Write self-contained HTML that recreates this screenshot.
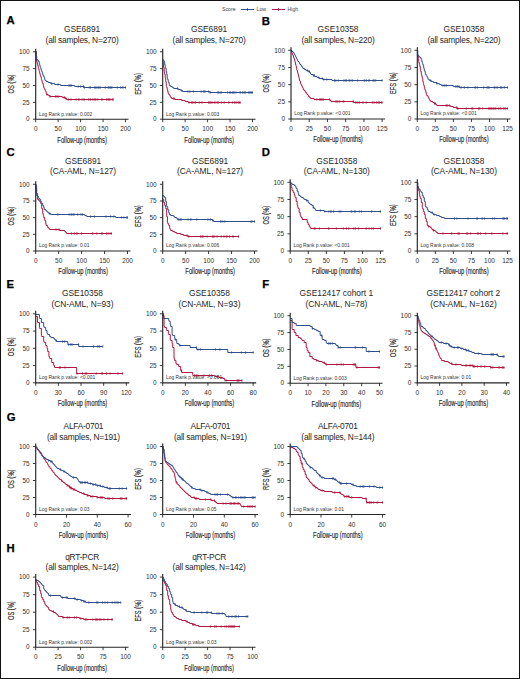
<!DOCTYPE html>
<html><head><meta charset="utf-8"><style>
html,body{margin:0;padding:0;background:#fff;}
body{width:520px;height:679px;overflow:hidden;position:relative;}
.frame{position:absolute;left:0;top:0;width:518px;height:677px;border:1px solid #111;pointer-events:none;}
svg text{font-family:"Liberation Sans",sans-serif;}
.tk{font-size:6.45px;fill:#2e2e2e;}
.pv{font-size:5.8px;fill:#333;}
.lab{font-size:8.7px;fill:#1e1e1e;stroke:#1e1e1e;stroke-width:0.15px;}
.tt{font-size:8.4px;fill:#262626;}
.tt2{letter-spacing:-0.2px;}
.let{font-size:11.3px;font-weight:bold;fill:#000;stroke:#000;stroke-width:0.25px;}
.leg{font-size:5.2px;fill:#444;}
</style></head>
<body>
<svg width="520" height="679" viewBox="0 0 520 679" style="display:block"><rect x="0" y="0" width="520" height="679" fill="#fff"/><path d="M35.7,51.5H36.2V56.5H36.64V61.5H37.2V63.5H37.7V65.5H38.2V67.5H38.53V68.5H38.7V69.5H39.2V71.5H39.7V73.5H40.2V75.5H40.7V76.5H41.2V78.5H41.36V79.5H41.7V80.5H42.2V82.5H42.7V83.5H43.2V85.5H43.7V87.5H44.2V88.5H44.7V89.5H45.2V90.5H45.7V91.5H46.2V93.5H46.7V94.5H48.2V95.5H49.89V96.5H62.2V97.5H65.2V98.5H66.7V99.5H113.2" fill="none" stroke="#b3173f" stroke-width="1.0" stroke-linejoin="miter"/><path d="M94.45,98.4V100.6 M112.66,98.4V100.6 M79.11,98.4V100.6 M82.12,98.4V100.6 M97.83,98.4V100.6 M109.08,98.4V100.6 M64.54,96.4V98.6 M65.91,97.4V99.6 M107.98,98.4V100.6 M95.88,98.4V100.6 M106.57,98.4V100.6 M109.22,98.4V100.6 M70.9,98.4V100.6 M83.73,98.4V100.6 M47.01,93.4V95.6 M110.07,98.4V100.6 M84.25,98.4V100.6 M58.17,95.4V97.6 M88.59,98.4V100.6 M50.03,95.4V97.6 M71,98.4V100.6 M101.6,98.4V100.6 M55.49,95.4V97.6 M56.86,95.4V97.6 M58.2,95.4V97.6 M88.97,98.4V100.6 M76.21,98.4V100.6 M95.45,98.4V100.6 M68.3,98.4V100.6 M94.53,98.4V100.6 M64.51,96.4V98.6 M112.4,98.4V100.6 M78.52,98.4V100.6 M90.55,98.4V100.6 M92.81,98.4V100.6 M64.15,96.4V98.6 M102.2,98.4V100.6 M95.4,98.4V100.6 M113.2,98.4V100.6" fill="none" stroke="#b3173f" stroke-width="1.1"/><path d="M35.7,51.5H36.15V56.5H36.64V59.5H37.7V60.5H38.53V61.5H39.2V63.5H39.7V65.5H40.2V67.5H40.7V68.5H41.2V70.5H41.7V71.5H42.2V72.5H42.7V74.5H43.2V75.5H43.7V76.5H44.2V77.5H44.7V79.5H45.13V80.5H46.2V81.5H48V82.5H50.7V83.5H54.7V84.5H60.7V85.5H74.7V86.5H83.7V87.5H125.5" fill="none" stroke="#2f4f8f" stroke-width="1.0" stroke-linejoin="miter"/><path d="M95.54,86.4V88.6 M110.09,86.4V88.6 M100.25,86.4V88.6 M71.3,84.4V86.6 M51.68,82.4V84.6 M68.85,84.4V86.6 M111.87,86.4V88.6 M78.21,85.4V87.6 M80.53,85.4V87.6 M94.51,86.4V88.6 M84.34,86.4V88.6 M89.15,86.4V88.6 M57.96,83.4V85.6 M80.7,85.4V87.6 M111.27,86.4V88.6 M122.95,86.4V88.6 M90.64,86.4V88.6 M51.62,82.4V84.6 M120.82,86.4V88.6 M83.49,85.4V87.6 M110.79,86.4V88.6 M105.21,86.4V88.6 M108.08,86.4V88.6 M98.98,86.4V88.6 M51.43,82.4V84.6 M105.37,86.4V88.6 M71.14,84.4V86.6 M84.47,86.4V88.6 M98.21,86.4V88.6 M110.79,86.4V88.6 M108.87,86.4V88.6 M110.28,86.4V88.6 M117.32,86.4V88.6 M120.61,86.4V88.6 M98.57,86.4V88.6 M122.67,86.4V88.6 M96.84,86.4V88.6 M70.23,84.4V86.6 M125.5,86.4V88.6" fill="none" stroke="#2f4f8f" stroke-width="1.1"/><path d="M35.7,48.8 V119.2 H128.5" fill="none" stroke="#262626" stroke-width="1.15"/><path d="M32.9,119.2 H35.7 M32.9,102.35 H35.7 M32.9,85.5 H35.7 M32.9,68.65 H35.7 M32.9,51.8 H35.7 M35.7,119.2 V122.2 M58.15,119.2 V122.2 M80.6,119.2 V122.2 M103.05,119.2 V122.2 M125.5,119.2 V122.2" fill="none" stroke="#262626" stroke-width="0.9"/><text x="29.7" y="121.4" class="tk" text-anchor="end">0</text><text x="29.7" y="104.55" class="tk" text-anchor="end">25</text><text x="29.7" y="87.7" class="tk" text-anchor="end">50</text><text x="29.7" y="70.85" class="tk" text-anchor="end">75</text><text x="29.7" y="54" class="tk" text-anchor="end">100</text><text x="35.7" y="131.2" class="tk" text-anchor="middle">0</text><text x="58.15" y="131.2" class="tk" text-anchor="middle">50</text><text x="80.6" y="131.2" class="tk" text-anchor="middle">100</text><text x="103.05" y="131.2" class="tk" text-anchor="middle">150</text><text x="125.5" y="131.2" class="tk" text-anchor="middle">200</text><text transform="translate(38.9,115.5) scale(0.85,1)" class="pv">Log Rank p.value: 0.002</text><text transform="translate(82.1,142.6) scale(0.666,1)" class="lab" text-anchor="middle">Follow-up (months)</text><text transform="translate(14.15,84) rotate(-90) scale(0.66,1)" class="lab" text-anchor="middle">OS (%)</text><text x="82.1" y="32.4" class="tt" text-anchor="middle" letter-spacing="0">GSE6891</text><text x="82.1" y="42.5" class="tt" text-anchor="middle" letter-spacing="-0.2">(all samples, N=270)</text><path d="M162.7,61.5H163.2V64.5H163.7V67.5H164.2V71.5H164.59V73.5H164.7V74.5H165.2V77.5H165.7V81.5H166.2V85.5H166.47V86.5H166.7V87.5H167.2V89.5H167.7V91.5H168.2V93.5H168.7V94.5H169.7V95.5H170.2V96.5H170.7V97.5H171.7V98.5H174.7V99.5H181.7V100.5H185.2V101.5H188.2V102.5H240.2" fill="none" stroke="#b3173f" stroke-width="1.0" stroke-linejoin="miter"/><path d="M208.57,101.4V103.6 M193.03,101.4V103.6 M228.86,101.4V103.6 M210.74,101.4V103.6 M235.02,101.4V103.6 M173.42,97.4V99.6 M238.67,101.4V103.6 M208.66,101.4V103.6 M217.66,101.4V103.6 M218.48,101.4V103.6 M173.96,97.4V99.6 M221.28,101.4V103.6 M239.64,101.4V103.6 M218.66,101.4V103.6 M236.76,101.4V103.6 M238.44,101.4V103.6 M191.46,101.4V103.6 M201.92,101.4V103.6 M232.37,101.4V103.6 M189,101.4V103.6 M228.66,101.4V103.6 M212.11,101.4V103.6 M239.51,101.4V103.6 M234.36,101.4V103.6 M235.1,101.4V103.6 M199.17,101.4V103.6 M195.49,101.4V103.6 M195.01,101.4V103.6 M209.75,101.4V103.6 M234.53,101.4V103.6 M215.91,101.4V103.6 M218.13,101.4V103.6 M214.32,101.4V103.6 M224.15,101.4V103.6 M192.94,101.4V103.6 M191.77,101.4V103.6 M238.89,101.4V103.6 M201.89,101.4V103.6 M240.2,101.4V103.6" fill="none" stroke="#b3173f" stroke-width="1.1"/><path d="M162.7,59.5H163.2V60.5H164.05V61.5H164.7V64.5H165.2V66.5H165.53V67.5H165.7V68.5H166.2V71.5H166.7V74.5H167.2V77.5H167.41V78.5H167.7V79.5H168.2V81.5H168.7V82.5H169.2V84.5H169.3V85.5H170.7V86.5H172.2V87.5H173.7V88.5H178.2V89.5H180.7V90.5H182.46V91.5H209.7V92.5H252.5" fill="none" stroke="#2f4f8f" stroke-width="1.0" stroke-linejoin="miter"/><path d="M218.49,91.4V93.6 M177.51,87.4V89.6 M230.79,91.4V93.6 M201.14,90.4V92.6 M245.68,91.4V93.6 M229.74,91.4V93.6 M248.33,91.4V93.6 M204.4,90.4V92.6 M233.61,91.4V93.6 M232.6,91.4V93.6 M210.22,91.4V93.6 M204.42,90.4V92.6 M188,90.4V92.6 M217.68,91.4V93.6 M208.66,90.4V92.6 M220.19,91.4V93.6 M248.84,91.4V93.6 M245.21,91.4V93.6 M221.48,91.4V93.6 M234.25,91.4V93.6 M227.64,91.4V93.6 M245.11,91.4V93.6 M203.65,90.4V92.6 M205.13,90.4V92.6 M240.3,91.4V93.6 M250.97,91.4V93.6 M233.58,91.4V93.6 M249.8,91.4V93.6 M240.02,91.4V93.6 M244.03,91.4V93.6 M251.58,91.4V93.6 M236,91.4V93.6 M242.56,91.4V93.6 M240.61,91.4V93.6 M189.9,90.4V92.6 M181.66,89.4V91.6 M193.37,90.4V92.6 M248.51,91.4V93.6 M252.5,91.4V93.6" fill="none" stroke="#2f4f8f" stroke-width="1.1"/><path d="M162.7,48.8 V119.2 H255.5" fill="none" stroke="#262626" stroke-width="1.15"/><path d="M159.9,119.2 H162.7 M159.9,102.35 H162.7 M159.9,85.5 H162.7 M159.9,68.65 H162.7 M159.9,51.8 H162.7 M162.7,119.2 V122.2 M185.15,119.2 V122.2 M207.6,119.2 V122.2 M230.05,119.2 V122.2 M252.5,119.2 V122.2" fill="none" stroke="#262626" stroke-width="0.9"/><text x="156.7" y="121.4" class="tk" text-anchor="end">0</text><text x="156.7" y="104.55" class="tk" text-anchor="end">25</text><text x="156.7" y="87.7" class="tk" text-anchor="end">50</text><text x="156.7" y="70.85" class="tk" text-anchor="end">75</text><text x="156.7" y="54" class="tk" text-anchor="end">100</text><text x="162.7" y="131.2" class="tk" text-anchor="middle">0</text><text x="185.15" y="131.2" class="tk" text-anchor="middle">50</text><text x="207.6" y="131.2" class="tk" text-anchor="middle">100</text><text x="230.05" y="131.2" class="tk" text-anchor="middle">150</text><text x="252.5" y="131.2" class="tk" text-anchor="middle">200</text><text transform="translate(165.9,115.5) scale(0.85,1)" class="pv">Log Rank p.value: 0.003</text><text transform="translate(209.1,142.6) scale(0.666,1)" class="lab" text-anchor="middle">Follow-up (months)</text><text transform="translate(141.2,84) rotate(-90) scale(0.66,1)" class="lab" text-anchor="middle">EFS (%)</text><text x="209.1" y="32.4" class="tt" text-anchor="middle" letter-spacing="0">GSE6891</text><text x="209.1" y="42.5" class="tt" text-anchor="middle" letter-spacing="-0.2">(all samples, N=270)</text><path d="M291,51.5H291.5V52.5H292V53.5H292.5V54.5H293V55.5H293.5V57.5H294V58.5H294.5V60.5H295V62.5H295.5V64.5H296V66.5H296.5V68.5H296.68V69.5H297V70.5H297.5V72.5H298V74.5H298.5V76.5H299V78.5H299.5V80.5H300V81.5H300.5V83.5H301V84.5H301.5V85.5H302V86.5H302.5V87.5H303V88.5H303.32V89.5H304V90.5H305V91.5H305.5V92.5H306.5V93.5H307V94.5H308V95.5H308.5V96.5H309.5V97.5H310.5V98.5H314V99.5H330V100.5H331V101.5H353.5V102.5H382.1" fill="none" stroke="#b3173f" stroke-width="1.0" stroke-linejoin="miter"/><path d="M376.44,101.4V103.6 M379.48,101.4V103.6 M366.18,101.4V103.6 M363.25,101.4V103.6 M323.32,98.4V100.6 M335.82,100.4V102.6 M336.25,100.4V102.6 M378.52,101.4V103.6 M362.83,101.4V103.6 M343.8,100.4V102.6 M373.97,101.4V103.6 M339.77,100.4V102.6 M376.86,101.4V103.6 M316.84,98.4V100.6 M357.22,101.4V103.6 M381.53,101.4V103.6 M329.51,98.4V100.6 M362.98,101.4V103.6 M320.38,98.4V100.6 M353.42,100.4V102.6 M355.52,101.4V103.6 M321.52,98.4V100.6 M357.42,101.4V103.6 M359.64,101.4V103.6 M372.34,101.4V103.6 M359.16,101.4V103.6 M319.45,98.4V100.6 M337.76,100.4V102.6 M353.16,100.4V102.6 M322.11,98.4V100.6 M343.17,100.4V102.6 M382.1,101.4V103.6" fill="none" stroke="#b3173f" stroke-width="1.1"/><path d="M291,50.5H292V51.5H293V52.5H293.84V53.5H294.5V54.5H295V55.5H295.5V56.5H296V57.5H296.5V58.5H297V59.5H297.5V60.5H298V61.5H299V62.5H299.5V63.5H300V64.5H301V65.5H301.5V66.5H302.5V67.5H303V68.5H304.5V69.5H306V70.5H308V71.5H309.5V72.5H310.5V73.5H310.9V74.5H313V75.5H314.76V76.5H317V77.5H319V78.5H323V79.5H332V80.5H382.1" fill="none" stroke="#2f4f8f" stroke-width="1.0" stroke-linejoin="miter"/><path d="M357.73,79.4V81.6 M307.64,69.4V71.6 M343.83,79.4V81.6 M375.67,79.4V81.6 M352,79.4V81.6 M348.95,79.4V81.6 M346.51,79.4V81.6 M364.06,79.4V81.6 M338.24,79.4V81.6 M368.78,79.4V81.6 M352.52,79.4V81.6 M345.31,79.4V81.6 M318.86,76.4V78.6 M314.44,74.4V76.6 M374.31,79.4V81.6 M375.59,79.4V81.6 M309.16,70.4V72.6 M326.79,78.4V80.6 M357.44,79.4V81.6 M369.44,79.4V81.6 M335.77,79.4V81.6 M366.57,79.4V81.6 M334.48,79.4V81.6 M364.91,79.4V81.6 M373.1,79.4V81.6 M313.57,74.4V76.6 M352.61,79.4V81.6 M322.22,77.4V79.6 M350,79.4V81.6 M323.8,78.4V80.6 M309.28,70.4V72.6 M382.1,79.4V81.6" fill="none" stroke="#2f4f8f" stroke-width="1.1"/><path d="M291,47.3 V119 H385.1" fill="none" stroke="#262626" stroke-width="1.15"/><path d="M288.2,119 H291 M288.2,101.83 H291 M288.2,84.65 H291 M288.2,67.47 H291 M288.2,50.3 H291 M291,119 V122 M309.22,119 V122 M327.44,119 V122 M345.66,119 V122 M363.88,119 V122 M382.1,119 V122" fill="none" stroke="#262626" stroke-width="0.9"/><text x="285" y="121.2" class="tk" text-anchor="end">0</text><text x="285" y="104.03" class="tk" text-anchor="end">25</text><text x="285" y="86.85" class="tk" text-anchor="end">50</text><text x="285" y="69.67" class="tk" text-anchor="end">75</text><text x="285" y="52.5" class="tk" text-anchor="end">100</text><text x="291" y="131" class="tk" text-anchor="middle">0</text><text x="309.22" y="131" class="tk" text-anchor="middle">25</text><text x="327.44" y="131" class="tk" text-anchor="middle">50</text><text x="345.66" y="131" class="tk" text-anchor="middle">75</text><text x="363.88" y="131" class="tk" text-anchor="middle">100</text><text x="382.1" y="131" class="tk" text-anchor="middle">125</text><text transform="translate(294.2,115.3) scale(0.85,1)" class="pv">Log Rank p.value: <0.001</text><text transform="translate(338.05,142.4) scale(0.666,1)" class="lab" text-anchor="middle">Follow-up (months)</text><text transform="translate(268.6,83.15) rotate(-90) scale(0.66,1)" class="lab" text-anchor="middle">OS (%)</text><text x="338.05" y="32.4" class="tt" text-anchor="middle" letter-spacing="0">GSE10358</text><text x="338.05" y="42.5" class="tt" text-anchor="middle" letter-spacing="-0.2">(all samples, N=220)</text><path d="M417.3,54.5H417.8V56.5H418.3V59.5H418.74V61.5H418.8V62.5H419.3V64.5H419.8V66.5H420.3V69.5H420.69V71.5H421.3V74.5H421.8V76.5H422.3V78.5H422.8V81.5H423.3V83.5H423.51V84.5H423.8V85.5H424.3V87.5H424.8V89.5H425.3V90.5H425.8V92.5H426.3V94.5H426.8V95.5H427.8V96.5H428.3V97.5H428.8V98.5H429.3V99.5H429.8V100.5H430.8V101.5H432.8V102.5H434.3V103.5H435.8V104.5H436.8V105.5H450.3V106.5H453.3V107.5H456.8V108.5H507.5" fill="none" stroke="#b3173f" stroke-width="1.0" stroke-linejoin="miter"/><path d="M478.51,107.4V109.6 M472.9,107.4V109.6 M495.89,107.4V109.6 M434.52,102.4V104.6 M471.79,107.4V109.6 M504.02,107.4V109.6 M446.08,104.4V106.6 M457.92,107.4V109.6 M466.27,107.4V109.6 M489.33,107.4V109.6 M490.23,107.4V109.6 M479.83,107.4V109.6 M479.09,107.4V109.6 M498.51,107.4V109.6 M488.27,107.4V109.6 M456.77,106.4V108.6 M495.3,107.4V109.6 M503.54,107.4V109.6 M447.27,104.4V106.6 M505.73,107.4V109.6 M449.34,104.4V106.6 M500.93,107.4V109.6 M505.39,107.4V109.6 M457.33,107.4V109.6 M493.22,107.4V109.6 M482.78,107.4V109.6 M500.37,107.4V109.6 M494.04,107.4V109.6 M435.5,102.4V104.6 M490.87,107.4V109.6 M491.85,107.4V109.6 M507.5,107.4V109.6" fill="none" stroke="#b3173f" stroke-width="1.1"/><path d="M417.3,50.5H417.8V54.5H417.88V55.5H418.8V56.5H419.8V57.5H420.8V58.5H421.3V59.5H421.8V61.5H422.3V62.5H422.57V63.5H422.8V64.5H423.3V66.5H423.8V68.5H424.3V70.5H424.8V71.5H425.3V73.5H425.38V74.5H426.3V75.5H426.8V76.5H427.3V77.5H427.8V78.5H428.2V79.5H429.3V80.5H431.3V81.5H433.3V82.5H436.8V83.5H439.3V84.5H441.3V85.5H453.3V86.5H459.3V87.5H507.5" fill="none" stroke="#2f4f8f" stroke-width="1.0" stroke-linejoin="miter"/><path d="M504.31,86.4V88.6 M477.21,86.4V88.6 M444.79,84.4V86.6 M501.42,86.4V88.6 M501.06,86.4V88.6 M467.94,86.4V88.6 M456.86,85.4V87.6 M489.13,86.4V88.6 M494.2,86.4V88.6 M436.92,82.4V84.6 M459.18,85.4V87.6 M456.86,85.4V87.6 M483.67,86.4V88.6 M474.99,86.4V88.6 M488.27,86.4V88.6 M495.02,86.4V88.6 M442.97,84.4V86.6 M497.02,86.4V88.6 M464.29,86.4V88.6 M497.46,86.4V88.6 M501.81,86.4V88.6 M487.07,86.4V88.6 M446.31,84.4V86.6 M500.55,86.4V88.6 M475.53,86.4V88.6 M457.73,85.4V87.6 M464.51,86.4V88.6 M461.05,86.4V88.6 M496.95,86.4V88.6 M455.27,85.4V87.6 M430.55,79.4V81.6 M507.5,86.4V88.6" fill="none" stroke="#2f4f8f" stroke-width="1.1"/><path d="M417.3,47.3 V119 H510.5" fill="none" stroke="#262626" stroke-width="1.15"/><path d="M414.5,119 H417.3 M414.5,101.83 H417.3 M414.5,84.65 H417.3 M414.5,67.47 H417.3 M414.5,50.3 H417.3 M417.3,119 V122 M435.34,119 V122 M453.38,119 V122 M471.42,119 V122 M489.46,119 V122 M507.5,119 V122" fill="none" stroke="#262626" stroke-width="0.9"/><text x="411.3" y="121.2" class="tk" text-anchor="end">0</text><text x="411.3" y="104.03" class="tk" text-anchor="end">25</text><text x="411.3" y="86.85" class="tk" text-anchor="end">50</text><text x="411.3" y="69.67" class="tk" text-anchor="end">75</text><text x="411.3" y="52.5" class="tk" text-anchor="end">100</text><text x="417.3" y="131" class="tk" text-anchor="middle">0</text><text x="435.34" y="131" class="tk" text-anchor="middle">25</text><text x="453.38" y="131" class="tk" text-anchor="middle">50</text><text x="471.42" y="131" class="tk" text-anchor="middle">75</text><text x="489.46" y="131" class="tk" text-anchor="middle">100</text><text x="507.5" y="131" class="tk" text-anchor="middle">125</text><text transform="translate(420.5,115.3) scale(0.85,1)" class="pv">Log Rank p.value: <0.001</text><text transform="translate(463.9,142.4) scale(0.666,1)" class="lab" text-anchor="middle">Follow-up (months)</text><text transform="translate(395.7,83.15) rotate(-90) scale(0.66,1)" class="lab" text-anchor="middle">EFS (%)</text><text x="463.9" y="32.4" class="tt" text-anchor="middle" letter-spacing="0">GSE10358</text><text x="463.9" y="42.5" class="tt" text-anchor="middle" letter-spacing="-0.2">(all samples, N=220)</text><path d="M35.7,186.5H36.7V193.5H37.58V199.5H38.7V200.5H39.7V201.5H40.43V202.5H40.7V203.5H41.7V208.5H42.7V213.5H43.27V215.5H43.7V217.5H44.7V220.5H45.7V223.5H46.12V225.5H47.7V227.5H48.7V228.5H49.7V229.5H59.7V230.5H64.7V231.5H65.7V232.5H66.54V233.5H111.44" fill="none" stroke="#b3173f" stroke-width="1.0" stroke-linejoin="miter"/><path d="M92.79,232.4V234.6 M71.44,232.4V234.6 M77.17,232.4V234.6 M96.8,232.4V234.6 M106.96,232.4V234.6 M101.61,232.4V234.6 M111.18,232.4V234.6 M102.23,232.4V234.6 M81.45,232.4V234.6 M92.58,232.4V234.6 M110.96,232.4V234.6 M55.97,228.4V230.6 M58.91,228.4V230.6 M106.61,232.4V234.6 M76.48,232.4V234.6 M108.92,232.4V234.6 M74.39,232.4V234.6 M92.71,232.4V234.6 M111.44,232.4V234.6" fill="none" stroke="#b3173f" stroke-width="1.1"/><path d="M35.7,184.5H36.25V195.5H37.7V196.5H38.55V197.5H38.7V198.5H39.7V199.5H40.7V201.5H41.39V202.5H41.7V203.5H42.7V205.5H43.7V207.5H44.24V209.5H45.7V210.5H46.7V211.5H47.7V212.5H48.7V213.5H50.7V214.5H84.7V215.5H86.65V216.5H115.7V217.5H127.5" fill="none" stroke="#2f4f8f" stroke-width="1.0" stroke-linejoin="miter"/><path d="M71.9,213.4V215.6 M82.48,213.4V215.6 M113.9,215.4V217.6 M49.73,212.4V214.6 M77.67,213.4V215.6 M126.49,216.4V218.6 M74.1,213.4V215.6 M110.67,215.4V217.6 M121.58,216.4V218.6 M94.32,215.4V217.6 M123.86,216.4V218.6 M69.17,213.4V215.6 M90.6,215.4V217.6 M57.81,213.4V215.6 M106.05,215.4V217.6 M73.45,213.4V215.6 M81.04,213.4V215.6 M71.1,213.4V215.6 M127.5,216.4V218.6" fill="none" stroke="#2f4f8f" stroke-width="1.1"/><path d="M35.7,181.3 V251 H130.5" fill="none" stroke="#262626" stroke-width="1.15"/><path d="M32.9,251 H35.7 M32.9,234.32 H35.7 M32.9,217.65 H35.7 M32.9,200.98 H35.7 M32.9,184.3 H35.7 M35.7,251 V254 M58.65,251 V254 M81.6,251 V254 M104.55,251 V254 M127.5,251 V254" fill="none" stroke="#262626" stroke-width="0.9"/><text x="29.7" y="253.2" class="tk" text-anchor="end">0</text><text x="29.7" y="236.52" class="tk" text-anchor="end">25</text><text x="29.7" y="219.85" class="tk" text-anchor="end">50</text><text x="29.7" y="203.18" class="tk" text-anchor="end">75</text><text x="29.7" y="186.5" class="tk" text-anchor="end">100</text><text x="35.7" y="263" class="tk" text-anchor="middle">0</text><text x="58.65" y="263" class="tk" text-anchor="middle">50</text><text x="81.6" y="263" class="tk" text-anchor="middle">100</text><text x="104.55" y="263" class="tk" text-anchor="middle">150</text><text x="127.5" y="263" class="tk" text-anchor="middle">200</text><text transform="translate(38.9,247.3) scale(0.85,1)" class="pv">Log Rank p.value: 0.01</text><text transform="translate(83.1,274.4) scale(0.666,1)" class="lab" text-anchor="middle">Follow-up (months)</text><text transform="translate(14.15,216.15) rotate(-90) scale(0.66,1)" class="lab" text-anchor="middle">OS (%)</text><text x="83.1" y="164.2" class="tt" text-anchor="middle" letter-spacing="0">GSE6891</text><text x="83.1" y="174.2" class="tt" text-anchor="middle" letter-spacing="-0.05">(CA-AML, N=127)</text><path d="M162.7,199.5H163.7V202.5H164.7V205.5H165.55V207.5H165.7V208.5H166.7V216.5H167.43V222.5H167.7V223.5H168.7V225.5H169.7V228.5H170.27V229.5H170.7V230.5H172.7V231.5H174.7V232.5H176.7V233.5H180.6V234.5H183.7V235.5H187.7V236.5H238.44" fill="none" stroke="#b3173f" stroke-width="1.0" stroke-linejoin="miter"/><path d="M226.22,235.4V237.6 M186.96,234.4V236.6 M226.92,235.4V237.6 M200.66,235.4V237.6 M232.84,235.4V237.6 M202.16,235.4V237.6 M213.67,235.4V237.6 M214.11,235.4V237.6 M212.3,235.4V237.6 M221.22,235.4V237.6 M213,235.4V237.6 M223.96,235.4V237.6 M207.15,235.4V237.6 M233.49,235.4V237.6 M229.49,235.4V237.6 M203.02,235.4V237.6 M188.86,235.4V237.6 M217.16,235.4V237.6 M238.44,235.4V237.6" fill="none" stroke="#b3173f" stroke-width="1.1"/><path d="M162.7,195.5H163.7V196.5H164.7V197.5H165.7V201.5H166.46V205.5H166.7V206.5H167.7V209.5H168.7V212.5H169.31V214.5H170.7V215.5H173.7V216.5H174.7V217.5H176.7V218.5H177.7V219.5H212.7V220.5H213.65V221.5H254.5" fill="none" stroke="#2f4f8f" stroke-width="1.0" stroke-linejoin="miter"/><path d="M220.54,220.4V222.6 M178.13,218.4V220.6 M179.09,218.4V220.6 M221.03,220.4V222.6 M210.29,218.4V220.6 M250.91,220.4V222.6 M191.07,218.4V220.6 M210.63,218.4V220.6 M181.24,218.4V220.6 M212.89,219.4V221.6 M187.99,218.4V220.6 M180.62,218.4V220.6 M190.54,218.4V220.6 M196.66,218.4V220.6 M251.93,220.4V222.6 M224.74,220.4V222.6 M207.91,218.4V220.6 M222.88,220.4V222.6 M254.5,220.4V222.6" fill="none" stroke="#2f4f8f" stroke-width="1.1"/><path d="M162.7,181.3 V251 H257.5" fill="none" stroke="#262626" stroke-width="1.15"/><path d="M159.9,251 H162.7 M159.9,234.32 H162.7 M159.9,217.65 H162.7 M159.9,200.98 H162.7 M159.9,184.3 H162.7 M162.7,251 V254 M185.65,251 V254 M208.6,251 V254 M231.55,251 V254 M254.5,251 V254" fill="none" stroke="#262626" stroke-width="0.9"/><text x="156.7" y="253.2" class="tk" text-anchor="end">0</text><text x="156.7" y="236.52" class="tk" text-anchor="end">25</text><text x="156.7" y="219.85" class="tk" text-anchor="end">50</text><text x="156.7" y="203.18" class="tk" text-anchor="end">75</text><text x="156.7" y="186.5" class="tk" text-anchor="end">100</text><text x="162.7" y="263" class="tk" text-anchor="middle">0</text><text x="185.65" y="263" class="tk" text-anchor="middle">50</text><text x="208.6" y="263" class="tk" text-anchor="middle">100</text><text x="231.55" y="263" class="tk" text-anchor="middle">150</text><text x="254.5" y="263" class="tk" text-anchor="middle">200</text><text transform="translate(165.9,247.3) scale(0.85,1)" class="pv">Log Rank p.value: 0.006</text><text transform="translate(210.1,274.4) scale(0.666,1)" class="lab" text-anchor="middle">Follow-up (months)</text><text transform="translate(141.2,216.15) rotate(-90) scale(0.66,1)" class="lab" text-anchor="middle">EFS (%)</text><text x="210.1" y="164.2" class="tt" text-anchor="middle" letter-spacing="0">GSE6891</text><text x="210.1" y="174.2" class="tt" text-anchor="middle" letter-spacing="-0.05">(CA-AML, N=127)</text><path d="M290.2,184.5H291.2V187.5H292.08V190.5H293.2V192.5H294.2V194.5H294.9V196.5H295.2V197.5H296.2V201.5H297.2V205.5H297.79V207.5H298.2V208.5H299.2V212.5H300.2V215.5H300.6V216.5H301.2V217.5H302.2V219.5H307.2V222.5H308.12V224.5H309.2V226.5H310.2V227.5H310.57V228.5H380.5" fill="none" stroke="#b3173f" stroke-width="1.0" stroke-linejoin="miter"/><path d="M353.98,227.4V229.6 M358.64,227.4V229.6 M355.5,227.4V229.6 M315.07,227.4V229.6 M346.55,227.4V229.6 M366.24,227.4V229.6 M373.54,227.4V229.6 M315.2,227.4V229.6 M369.12,227.4V229.6 M343.23,227.4V229.6 M348.73,227.4V229.6 M314.16,227.4V229.6 M371.75,227.4V229.6 M328.56,227.4V229.6 M319.44,227.4V229.6 M336.35,227.4V229.6 M328.9,227.4V229.6 M348.69,227.4V229.6 M380.5,227.4V229.6" fill="none" stroke="#b3173f" stroke-width="1.1"/><path d="M290.2,182.5H291.2V183.5H292.2V184.5H294.2V185.5H295.2V186.5H295.83V187.5H296.2V188.5H297.2V191.5H298.2V193.5H298.72V195.5H300.2V196.5H301.2V197.5H303.2V198.5H304.2V199.5H306.2V200.5H308.2V202.5H309.13V203.5H310.2V204.5H311.87V205.5H313.2V207.5H314.2V208.5H315.2V209.5H315.7V210.5H324.15V211.5H380.5" fill="none" stroke="#2f4f8f" stroke-width="1.0" stroke-linejoin="miter"/><path d="M331.2,210.4V212.6 M359.16,210.4V212.6 M330.67,210.4V212.6 M313.33,206.4V208.6 M328.9,210.4V212.6 M380.19,210.4V212.6 M339.07,210.4V212.6 M340.82,210.4V212.6 M351.86,210.4V212.6 M355.7,210.4V212.6 M351.2,210.4V212.6 M354.39,210.4V212.6 M324.89,210.4V212.6 M320.33,209.4V211.6 M333.51,210.4V212.6 M371.52,210.4V212.6 M306.83,199.4V201.6 M361.42,210.4V212.6 M380.5,210.4V212.6" fill="none" stroke="#2f4f8f" stroke-width="1.1"/><path d="M290.2,179.3 V251 H383.5" fill="none" stroke="#262626" stroke-width="1.15"/><path d="M287.4,251 H290.2 M287.4,233.82 H290.2 M287.4,216.65 H290.2 M287.4,199.48 H290.2 M287.4,182.3 H290.2 M290.2,251 V254 M308.26,251 V254 M326.32,251 V254 M344.38,251 V254 M362.44,251 V254 M380.5,251 V254" fill="none" stroke="#262626" stroke-width="0.9"/><text x="284.2" y="253.2" class="tk" text-anchor="end">0</text><text x="284.2" y="236.02" class="tk" text-anchor="end">25</text><text x="284.2" y="218.85" class="tk" text-anchor="end">50</text><text x="284.2" y="201.68" class="tk" text-anchor="end">75</text><text x="284.2" y="184.5" class="tk" text-anchor="end">100</text><text x="290.2" y="263" class="tk" text-anchor="middle">0</text><text x="308.26" y="263" class="tk" text-anchor="middle">25</text><text x="326.32" y="263" class="tk" text-anchor="middle">50</text><text x="344.38" y="263" class="tk" text-anchor="middle">75</text><text x="362.44" y="263" class="tk" text-anchor="middle">100</text><text x="380.5" y="263" class="tk" text-anchor="middle">125</text><text transform="translate(293.4,247.3) scale(0.85,1)" class="pv">Log Rank p.value: <0.001</text><text transform="translate(336.85,274.4) scale(0.666,1)" class="lab" text-anchor="middle">Follow-up (months)</text><text transform="translate(268.6,215.15) rotate(-90) scale(0.66,1)" class="lab" text-anchor="middle">OS (%)</text><text x="336.85" y="164.2" class="tt" text-anchor="middle" letter-spacing="0">GSE10358</text><text x="336.85" y="174.2" class="tt" text-anchor="middle" letter-spacing="-0.05">(CA-AML, N=130)</text><path d="M417.3,186.5H418.3V190.5H419.3V194.5H419.75V196.5H420.3V198.5H421.3V202.5H422.3V207.5H422.57V208.5H423.3V211.5H424.3V214.5H425.3V218.5H426.3V221.5H427.26V225.5H428.3V226.5H430.3V227.5H431.3V228.5H432.02V229.5H433.3V230.5H435.3V231.5H436.3V232.5H437.65V233.5H507.5" fill="none" stroke="#b3173f" stroke-width="1.0" stroke-linejoin="miter"/><path d="M433.37,229.4V231.6 M428.75,225.4V227.6 M480.46,232.4V234.6 M485.7,232.4V234.6 M458.65,232.4V234.6 M442.98,232.4V234.6 M467.56,232.4V234.6 M502.84,232.4V234.6 M451.63,232.4V234.6 M458.06,232.4V234.6 M470.53,232.4V234.6 M478.33,232.4V234.6 M491.81,232.4V234.6 M477.41,232.4V234.6 M466.74,232.4V234.6 M459.25,232.4V234.6 M506.93,232.4V234.6 M451.68,232.4V234.6 M507.5,232.4V234.6" fill="none" stroke="#b3173f" stroke-width="1.1"/><path d="M417.3,182.5H417.88V187.5H418.3V188.5H419.3V189.5H420.3V190.5H420.69V191.5H421.3V192.5H422.3V195.5H423.3V197.5H424.3V201.5H425.3V206.5H426.3V207.5H427.3V209.5H428.2V211.5H430.3V212.5H432.3V213.5H433.3V214.5H436.3V215.5H439.3V216.5H441.3V217.5H444.3V218.5H507.5" fill="none" stroke="#2f4f8f" stroke-width="1.0" stroke-linejoin="miter"/><path d="M482.54,217.4V219.6 M506.75,217.4V219.6 M506.32,217.4V219.6 M503.49,217.4V219.6 M492.69,217.4V219.6 M506.94,217.4V219.6 M484.6,217.4V219.6 M468.09,217.4V219.6 M502.82,217.4V219.6 M434.17,213.4V215.6 M454.63,217.4V219.6 M482.08,217.4V219.6 M477.52,217.4V219.6 M456.82,217.4V219.6 M494.79,217.4V219.6 M476.77,217.4V219.6 M504.32,217.4V219.6 M432.1,211.4V213.6 M507.5,217.4V219.6" fill="none" stroke="#2f4f8f" stroke-width="1.1"/><path d="M417.3,179.3 V251 H510.5" fill="none" stroke="#262626" stroke-width="1.15"/><path d="M414.5,251 H417.3 M414.5,233.82 H417.3 M414.5,216.65 H417.3 M414.5,199.48 H417.3 M414.5,182.3 H417.3 M417.3,251 V254 M435.34,251 V254 M453.38,251 V254 M471.42,251 V254 M489.46,251 V254 M507.5,251 V254" fill="none" stroke="#262626" stroke-width="0.9"/><text x="411.3" y="253.2" class="tk" text-anchor="end">0</text><text x="411.3" y="236.02" class="tk" text-anchor="end">25</text><text x="411.3" y="218.85" class="tk" text-anchor="end">50</text><text x="411.3" y="201.68" class="tk" text-anchor="end">75</text><text x="411.3" y="184.5" class="tk" text-anchor="end">100</text><text x="417.3" y="263" class="tk" text-anchor="middle">0</text><text x="435.34" y="263" class="tk" text-anchor="middle">25</text><text x="453.38" y="263" class="tk" text-anchor="middle">50</text><text x="471.42" y="263" class="tk" text-anchor="middle">75</text><text x="489.46" y="263" class="tk" text-anchor="middle">100</text><text x="507.5" y="263" class="tk" text-anchor="middle">125</text><text transform="translate(420.5,247.3) scale(0.85,1)" class="pv">Log Rank p.value: 0.008</text><text transform="translate(463.9,274.4) scale(0.666,1)" class="lab" text-anchor="middle">Follow-up (months)</text><text transform="translate(395.7,215.15) rotate(-90) scale(0.66,1)" class="lab" text-anchor="middle">EFS (%)</text><text x="463.9" y="164.2" class="tt" text-anchor="middle" letter-spacing="0">GSE10358</text><text x="463.9" y="174.2" class="tt" text-anchor="middle" letter-spacing="-0.05">(CA-AML, N=130)</text><path d="M35.7,316.5H37.59V322.5H39.48V327.5H39.7V328.5H41.36V335.5H41.7V336.5H43.7V341.5H44.19V342.5H45.7V345.5H47.03V348.5H47.7V351.5H48.91V356.5H49.7V358.5H51.7V362.5H53.7V365.5H54.58V367.5H76.66V373.5H122.53" fill="none" stroke="#b3173f" stroke-width="1.0" stroke-linejoin="miter"/><path d="M59.35,366.4V368.6 M101.79,372.4V374.6 M96.32,372.4V374.6 M60.38,366.4V368.6 M86.61,372.4V374.6 M82.48,372.4V374.6 M85.33,372.4V374.6 M64.98,366.4V368.6 M77.09,372.4V374.6 M110.07,372.4V374.6 M117.92,372.4V374.6 M102.39,372.4V374.6 M106.62,372.4V374.6 M122.53,372.4V374.6" fill="none" stroke="#b3173f" stroke-width="1.1"/><path d="M35.7,314.5H39.48V317.5H39.7V318.5H41.36V322.5H43.7V326.5H44.19V327.5H45.7V330.5H47.03V333.5H47.7V334.5H49.7V336.5H50.8V337.5H53.7V338.5H54.58V339.5H55.7V340.5H56.46V341.5H67.7V343.5H67.79V344.5H78.74V346.5H102.71" fill="none" stroke="#2f4f8f" stroke-width="1.0" stroke-linejoin="miter"/><path d="M62.65,340.4V342.6 M68.7,343.4V345.6 M93.53,345.4V347.6 M99.18,345.4V347.6 M82.96,345.4V347.6 M78.46,343.4V345.6 M64.68,340.4V342.6 M97.69,345.4V347.6 M72.06,343.4V345.6 M70.58,343.4V345.6 M71.94,343.4V345.6 M56.06,339.4V341.6 M99.49,345.4V347.6 M102.71,345.4V347.6" fill="none" stroke="#2f4f8f" stroke-width="1.1"/><path d="M35.7,310.8 V382.8 H129.3" fill="none" stroke="#262626" stroke-width="1.15"/><path d="M32.9,382.8 H35.7 M32.9,365.55 H35.7 M32.9,348.3 H35.7 M32.9,331.05 H35.7 M32.9,313.8 H35.7 M35.7,382.8 V385.8 M58.35,382.8 V385.8 M81,382.8 V385.8 M103.65,382.8 V385.8 M126.3,382.8 V385.8" fill="none" stroke="#262626" stroke-width="0.9"/><text x="29.7" y="385" class="tk" text-anchor="end">0</text><text x="29.7" y="367.75" class="tk" text-anchor="end">25</text><text x="29.7" y="350.5" class="tk" text-anchor="end">50</text><text x="29.7" y="333.25" class="tk" text-anchor="end">75</text><text x="29.7" y="316" class="tk" text-anchor="end">100</text><text x="35.7" y="394.8" class="tk" text-anchor="middle">0</text><text x="58.35" y="394.8" class="tk" text-anchor="middle">30</text><text x="81" y="394.8" class="tk" text-anchor="middle">60</text><text x="103.65" y="394.8" class="tk" text-anchor="middle">90</text><text x="126.3" y="394.8" class="tk" text-anchor="middle">120</text><text transform="translate(38.9,379.1) scale(0.85,1)" class="pv">Log Rank p.value: <0.001</text><text transform="translate(82.5,406.2) scale(0.666,1)" class="lab" text-anchor="middle">Follow-up (months)</text><text transform="translate(14.15,346.8) rotate(-90) scale(0.66,1)" class="lab" text-anchor="middle">OS (%)</text><text x="82.5" y="296.4" class="tt" text-anchor="middle" letter-spacing="0">GSE10358</text><text x="82.5" y="306.5" class="tt" text-anchor="middle" letter-spacing="-0.05">(CN-AML, N=93)</text><path d="M162.7,315.5H164.06V326.5H164.7V327.5H166.43V329.5H166.7V330.5H168.36V333.5H168.7V334.5H170.28V339.5H170.7V340.5H172.09V343.5H172.7V347.5H174.01V358.5H174.7V360.5H175.94V363.5H176.7V364.5H178.7V366.5H180.7V370.5H181.59V372.5H192.7V374.5H192.9V375.5H214.7V376.5H218.7V377.5H222.7V378.5H224.7V380.5H241.89" fill="none" stroke="#b3173f" stroke-width="1.0" stroke-linejoin="miter"/><path d="M181.55,369.4V371.6 M196.2,374.4V376.6 M226.07,379.4V381.6 M237.16,379.4V381.6 M203.82,374.4V376.6 M209.33,374.4V376.6 M238.2,379.4V381.6 M211.67,374.4V376.6 M194.58,374.4V376.6 M197.83,374.4V376.6 M239.02,379.4V381.6 M211.92,374.4V376.6 M217.58,375.4V377.6 M241.89,379.4V381.6" fill="none" stroke="#b3173f" stroke-width="1.1"/><path d="M162.7,313.5H163.6V318.5H168.7V320.5H169.26V321.5H170.28V324.5H170.7V326.5H172.09V334.5H172.7V335.5H174.7V338.5H174.92V339.5H176.7V342.5H176.84V343.5H178.7V344.5H179.67V345.5H190.08V347.5H196.64V349.5H227.75V352.5H253.2" fill="none" stroke="#2f4f8f" stroke-width="1.0" stroke-linejoin="miter"/><path d="M219.72,348.4V350.6 M245.64,351.4V353.6 M175.48,338.4V340.6 M241.39,351.4V353.6 M179.92,344.4V346.6 M200.33,348.4V350.6 M198.01,348.4V350.6 M200.4,348.4V350.6 M219.84,348.4V350.6 M196.45,346.4V348.6 M215.52,348.4V350.6 M219.94,348.4V350.6 M231.63,351.4V353.6 M253.2,351.4V353.6" fill="none" stroke="#2f4f8f" stroke-width="1.1"/><path d="M162.7,310.8 V382.8 H256.2" fill="none" stroke="#262626" stroke-width="1.15"/><path d="M159.9,382.8 H162.7 M159.9,365.55 H162.7 M159.9,348.3 H162.7 M159.9,331.05 H162.7 M159.9,313.8 H162.7 M162.7,382.8 V385.8 M185.32,382.8 V385.8 M207.95,382.8 V385.8 M230.57,382.8 V385.8 M253.2,382.8 V385.8" fill="none" stroke="#262626" stroke-width="0.9"/><text x="156.7" y="385" class="tk" text-anchor="end">0</text><text x="156.7" y="367.75" class="tk" text-anchor="end">25</text><text x="156.7" y="350.5" class="tk" text-anchor="end">50</text><text x="156.7" y="333.25" class="tk" text-anchor="end">75</text><text x="156.7" y="316" class="tk" text-anchor="end">100</text><text x="162.7" y="394.8" class="tk" text-anchor="middle">0</text><text x="185.32" y="394.8" class="tk" text-anchor="middle">20</text><text x="207.95" y="394.8" class="tk" text-anchor="middle">40</text><text x="230.57" y="394.8" class="tk" text-anchor="middle">60</text><text x="253.2" y="394.8" class="tk" text-anchor="middle">80</text><text transform="translate(165.9,379.1) scale(0.85,1)" class="pv">Log Rank p.value: <0.001</text><text transform="translate(209.45,406.2) scale(0.666,1)" class="lab" text-anchor="middle">Follow-up (months)</text><text transform="translate(141.2,346.8) rotate(-90) scale(0.66,1)" class="lab" text-anchor="middle">EFS (%)</text><text x="209.45" y="296.4" class="tt" text-anchor="middle" letter-spacing="0">GSE10358</text><text x="209.45" y="306.5" class="tt" text-anchor="middle" letter-spacing="-0.05">(CN-AML, N=93)</text><path d="M290.2,320.5H292.08V328.5H292.2V329.5H294.2V332.5H295.92V335.5H298.2V337.5H300.2V338.5H301.45V339.5H302.2V340.5H304.2V342.5H306.2V347.5H307.17V350.5H308.2V352.5H309.85V356.5H312.2V358.5H313.78V359.5H316.2V360.5H318.42V361.5H322.2V362.5H324.2V363.5H325.92V364.5H355.92V367.5H379.5" fill="none" stroke="#b3173f" stroke-width="1.0" stroke-linejoin="miter"/><path d="M378.33,366.4V368.6 M353.26,363.4V365.6 M326.32,363.4V365.6 M341.09,363.4V365.6 M357.04,366.4V368.6 M324.13,361.4V363.6 M343.33,363.4V365.6 M336.94,363.4V365.6 M354.45,363.4V365.6 M355.43,363.4V365.6 M316.81,359.4V361.6 M379.5,366.4V368.6" fill="none" stroke="#b3173f" stroke-width="1.1"/><path d="M290.2,318.5H292.08V322.5H294.2V323.5H296.2V325.5H310.2V326.5H312.2V328.5H314.2V329.5H316.2V330.5H318.2V331.5H320.2V335.5H322.17V339.5H324.2V340.5H326.2V342.5H326.81V343.5H335.39V344.5H336.2V345.5H338.06V347.5H366.2V351.5H379.5" fill="none" stroke="#2f4f8f" stroke-width="1.0" stroke-linejoin="miter"/><path d="M340.22,346.4V348.6 M330.26,342.4V344.6 M332.32,342.4V344.6 M368.93,350.4V352.6 M321.55,334.4V336.6 M312.44,327.4V329.6 M355.15,346.4V348.6 M362.59,346.4V348.6 M328.73,342.4V344.6 M338.33,346.4V348.6 M355.67,346.4V348.6 M379.5,350.4V352.6" fill="none" stroke="#2f4f8f" stroke-width="1.1"/><path d="M290.2,312.7 V383.2 H382.5" fill="none" stroke="#262626" stroke-width="1.15"/><path d="M287.4,383.2 H290.2 M287.4,366.32 H290.2 M287.4,349.45 H290.2 M287.4,332.57 H290.2 M287.4,315.7 H290.2 M290.2,383.2 V386.2 M308.06,383.2 V386.2 M325.92,383.2 V386.2 M343.78,383.2 V386.2 M361.64,383.2 V386.2 M379.5,383.2 V386.2" fill="none" stroke="#262626" stroke-width="0.9"/><text x="284.2" y="385.4" class="tk" text-anchor="end">0</text><text x="284.2" y="368.52" class="tk" text-anchor="end">25</text><text x="284.2" y="351.65" class="tk" text-anchor="end">50</text><text x="284.2" y="334.77" class="tk" text-anchor="end">75</text><text x="284.2" y="317.9" class="tk" text-anchor="end">100</text><text x="290.2" y="395.2" class="tk" text-anchor="middle">0</text><text x="308.06" y="395.2" class="tk" text-anchor="middle">10</text><text x="325.92" y="395.2" class="tk" text-anchor="middle">20</text><text x="343.78" y="395.2" class="tk" text-anchor="middle">30</text><text x="361.64" y="395.2" class="tk" text-anchor="middle">40</text><text x="379.5" y="395.2" class="tk" text-anchor="middle">50</text><text transform="translate(293.4,379.5) scale(0.85,1)" class="pv">Log Rank p.value: 0.003</text><text transform="translate(336.35,406.6) scale(0.666,1)" class="lab" text-anchor="middle">Follow-up (months)</text><text transform="translate(268.6,347.95) rotate(-90) scale(0.66,1)" class="lab" text-anchor="middle">OS (%)</text><text x="336.35" y="296.4" class="tt" text-anchor="middle" letter-spacing="0">GSE12417 cohort 1</text><text x="336.35" y="306.5" class="tt" text-anchor="middle" letter-spacing="-0.05">(CN-AML, N=78)</text><path d="M417.3,316.5H417.8V318.5H418.3V320.5H418.8V322.5H419.17V324.5H419.8V326.5H420.3V328.5H420.8V329.5H421.09V330.5H421.8V331.5H422.8V332.5H424.3V333.5H425.8V334.5H427.3V335.5H428.8V336.5H430.3V337.5H430.8V338.5H431.8V339.5H432.3V340.5H433.13V341.5H433.8V342.5H434.3V344.5H434.8V345.5H435.3V346.5H435.8V348.5H436.3V349.5H436.8V350.5H437.3V351.5H437.8V352.5H438.3V353.5H438.8V355.5H439.3V356.5H439.8V357.5H440.3V358.5H441.3V359.5H441.61V360.5H444.3V361.5H448.3V362.5H449.8V363.5H451.8V364.5H461.3V365.5H473.3V366.5H490.8V367.5H504.05" fill="none" stroke="#b3173f" stroke-width="1.0" stroke-linejoin="miter"/><path d="M465.84,364.4V366.6 M484.73,365.4V367.6 M490.84,366.4V368.6 M470.32,364.4V366.6 M455.96,363.4V365.6 M477.3,365.4V367.6 M466.73,364.4V366.6 M434.98,344.4V346.6 M474.74,365.4V367.6 M498.99,366.4V368.6 M490.89,366.4V368.6 M492.79,366.4V368.6 M484.53,365.4V367.6 M474.35,365.4V367.6 M451.79,362.4V364.6 M499.29,366.4V368.6 M435.95,347.4V349.6 M481.01,365.4V367.6 M503.13,366.4V368.6 M502.04,366.4V368.6 M472.2,364.4V366.6 M469.81,364.4V366.6 M473.32,365.4V367.6 M504.05,366.4V368.6" fill="none" stroke="#b3173f" stroke-width="1.1"/><path d="M417.3,315.5H417.8V316.5H418.3V318.5H418.8V319.5H419.17V320.5H419.8V322.5H420.3V323.5H420.8V325.5H421.09V326.5H422.8V327.5H423.8V328.5H425.3V329.5H425.8V330.5H426.8V331.5H427.8V332.5H428.3V333.5H429.3V334.5H430.3V335.5H431.3V336.5H432.8V337.5H433.8V338.5H434.8V339.5H436.3V340.5H437.8V341.5H438.8V342.5H443.3V343.5H448.3V344.5H449.3V345.5H450.3V346.5H452.3V347.5H460.3V348.5H463.3V349.5H466.3V350.5H469.3V351.5H471.8V352.5H474.3V353.5H481.8V354.5H497.3V355.5H498.3V356.5H504.05" fill="none" stroke="#2f4f8f" stroke-width="1.0" stroke-linejoin="miter"/><path d="M492.38,353.4V355.6 M503.06,355.4V357.6 M466.73,349.4V351.6 M478.29,352.4V354.6 M431.76,335.4V337.6 M491.59,353.4V355.6 M497.01,353.4V355.6 M493.51,353.4V355.6 M451.28,345.4V347.6 M492.79,353.4V355.6 M457.49,346.4V348.6 M468.55,349.4V351.6 M446.1,342.4V344.6 M441.28,341.4V343.6 M458.62,346.4V348.6 M432.13,335.4V337.6 M491.02,353.4V355.6 M449.58,344.4V346.6 M448.93,343.4V345.6 M465.4,348.4V350.6 M503.29,355.4V357.6 M461.76,347.4V349.6 M454.2,346.4V348.6 M504.05,355.4V357.6" fill="none" stroke="#2f4f8f" stroke-width="1.1"/><path d="M417.3,312.7 V382.8 H509.5" fill="none" stroke="#262626" stroke-width="1.15"/><path d="M414.5,382.8 H417.3 M414.5,366.02 H417.3 M414.5,349.25 H417.3 M414.5,332.48 H417.3 M414.5,315.7 H417.3 M417.3,382.8 V385.8 M439.6,382.8 V385.8 M461.9,382.8 V385.8 M484.2,382.8 V385.8 M506.5,382.8 V385.8" fill="none" stroke="#262626" stroke-width="0.9"/><text x="411.3" y="385" class="tk" text-anchor="end">0</text><text x="411.3" y="368.22" class="tk" text-anchor="end">25</text><text x="411.3" y="351.45" class="tk" text-anchor="end">50</text><text x="411.3" y="334.68" class="tk" text-anchor="end">75</text><text x="411.3" y="317.9" class="tk" text-anchor="end">100</text><text x="417.3" y="394.8" class="tk" text-anchor="middle">0</text><text x="439.6" y="394.8" class="tk" text-anchor="middle">10</text><text x="461.9" y="394.8" class="tk" text-anchor="middle">20</text><text x="484.2" y="394.8" class="tk" text-anchor="middle">30</text><text x="506.5" y="394.8" class="tk" text-anchor="middle">40</text><text transform="translate(420.5,379.1) scale(0.85,1)" class="pv">Log Rank p.value: 0.01</text><text transform="translate(463.4,406.2) scale(0.666,1)" class="lab" text-anchor="middle">Follow-up (months)</text><text transform="translate(395.7,347.75) rotate(-90) scale(0.66,1)" class="lab" text-anchor="middle">OS (%)</text><text x="463.4" y="296.4" class="tt" text-anchor="middle" letter-spacing="0">GSE12417 cohort 2</text><text x="463.4" y="306.5" class="tt" text-anchor="middle" letter-spacing="-0.05">(CN-AML, N=162)</text><path d="M35.7,447.5H36.7V448.5H37.2V449.5H38.2V450.5H39.2V451.5H40.2V452.5H41.2V453.5H41.7V454.5H42.2V455.5H42.7V456.5H43.2V457.5H43.7V458.5H44.7V459.5H45.2V460.5H45.7V461.5H46.2V462.5H47.2V463.5H47.7V464.5H48.2V465.5H48.7V466.5H49.7V467.5H50.2V468.5H51.2V469.5H51.7V470.5H52.7V471.5H53.2V472.5H54.2V473.5H54.7V474.5H55.41V475.5H56.7V476.5H57.7V477.5H58.7V478.5H59.7V479.5H61.2V480.5H62.2V481.5H63.2V482.5H64.7V483.5H65.7V484.5H67.2V485.5H68.7V486.5H69.7V487.5H71.2V488.5H73.2V489.5H75.2V490.5H77.2V491.5H79.2V492.5H81.7V493.5H84.2V494.5H87.2V495.5H90.2V496.5H97.2V497.5H104.7V498.5H126.56" fill="none" stroke="#b3173f" stroke-width="1.0" stroke-linejoin="miter"/><path d="M102.53,496.4V498.6 M107.87,497.4V499.6 M73.27,488.4V490.6 M90.91,495.4V497.6 M74.61,488.4V490.6 M120.74,497.4V499.6 M125.16,497.4V499.6 M69.96,486.4V488.6 M121.5,497.4V499.6 M102.49,496.4V498.6 M87.31,494.4V496.6 M83.73,492.4V494.6 M100.68,496.4V498.6 M61.54,479.4V481.6 M67.3,484.4V486.6 M112.74,497.4V499.6 M101.46,496.4V498.6 M71.27,487.4V489.6 M71.05,486.4V488.6 M92.79,495.4V497.6 M100.14,496.4V498.6 M122,497.4V499.6 M69.44,485.4V487.6 M97.2,496.4V498.6 M87.98,494.4V496.6 M120.36,497.4V499.6 M109.2,497.4V499.6 M126.56,497.4V499.6" fill="none" stroke="#b3173f" stroke-width="1.1"/><path d="M35.7,446.5H36.2V447.5H37.2V448.5H37.7V449.5H38.47V450.5H39.2V451.5H39.7V452.5H40.2V453.5H41.2V454.5H41.4V455.5H42.7V456.5H43.7V457.5H45.2V458.5H46.2V459.5H48.2V460.5H50.2V461.5H52.2V462.5H52.7V463.5H53.7V464.5H54.7V465.5H55.2V466.5H56.2V467.5H57.2V468.5H59.2V469.5H61.2V470.5H63.2V471.5H65.2V472.5H66.7V473.5H68.2V474.5H69.2V475.5H70.7V476.5H72.2V477.5H76.7V478.5H77.7V479.5H78.2V480.5H78.7V481.5H79.7V482.5H88.2V483.5H92.2V484.5H96.2V485.5H100.2V486.5H104.2V487.5H107.7V488.5H126.56" fill="none" stroke="#2f4f8f" stroke-width="1.0" stroke-linejoin="miter"/><path d="M82.64,481.4V483.6 M90.34,482.4V484.6 M107.05,486.4V488.6 M84.57,481.4V483.6 M95.61,483.4V485.6 M110.38,487.4V489.6 M87.41,481.4V483.6 M51.76,460.4V462.6 M100.11,484.4V486.6 M93.17,483.4V485.6 M50.8,460.4V462.6 M102.73,485.4V487.6 M73.61,476.4V478.6 M109.47,487.4V489.6 M97.59,484.4V486.6 M80.43,481.4V483.6 M85.58,481.4V483.6 M93.62,483.4V485.6 M64.18,470.4V472.6 M50.96,460.4V462.6 M122.09,487.4V489.6 M60.46,468.4V470.6 M119.21,487.4V489.6 M82.34,481.4V483.6 M48.64,459.4V461.6 M81.46,481.4V483.6 M109.86,487.4V489.6 M126.56,487.4V489.6" fill="none" stroke="#2f4f8f" stroke-width="1.1"/><path d="M35.7,443.5 V514.5 H131.1" fill="none" stroke="#262626" stroke-width="1.15"/><path d="M32.9,514.5 H35.7 M32.9,497.5 H35.7 M32.9,480.5 H35.7 M32.9,463.5 H35.7 M32.9,446.5 H35.7 M35.7,514.5 V517.5 M66.5,514.5 V517.5 M97.3,514.5 V517.5 M128.1,514.5 V517.5" fill="none" stroke="#262626" stroke-width="0.9"/><text x="29.7" y="516.7" class="tk" text-anchor="end">0</text><text x="29.7" y="499.7" class="tk" text-anchor="end">25</text><text x="29.7" y="482.7" class="tk" text-anchor="end">50</text><text x="29.7" y="465.7" class="tk" text-anchor="end">75</text><text x="29.7" y="448.7" class="tk" text-anchor="end">100</text><text x="35.7" y="526.5" class="tk" text-anchor="middle">0</text><text x="66.5" y="526.5" class="tk" text-anchor="middle">20</text><text x="97.3" y="526.5" class="tk" text-anchor="middle">40</text><text x="128.1" y="526.5" class="tk" text-anchor="middle">60</text><text transform="translate(38.9,510.8) scale(0.85,1)" class="pv">Log Rank p.value: 0.03</text><text transform="translate(83.4,537.9) scale(0.666,1)" class="lab" text-anchor="middle">Follow-up (months)</text><text transform="translate(14.15,479) rotate(-90) scale(0.66,1)" class="lab" text-anchor="middle">OS (%)</text><text x="83.4" y="429.4" class="tt" text-anchor="middle" letter-spacing="-0.25">ALFA-0701</text><text x="83.4" y="439.5" class="tt" text-anchor="middle" letter-spacing="-0.2">(all samples, N=191)</text><path d="M162.7,446.5H163.2V449.5H163.7V452.5H164.2V455.5H164.7V458.5H165.16V461.5H165.7V462.5H166.7V463.5H167.2V464.5H168.2V465.5H169.2V466.5H170.2V467.5H170.7V468.5H171.7V469.5H172.2V470.5H172.7V471.5H173.7V472.5H174.1V473.5H174.7V476.5H175.2V478.5H175.7V480.5H175.94V481.5H176.2V482.5H177.2V483.5H177.7V484.5H178.7V485.5H179.7V486.5H180.2V487.5H181.2V488.5H182.2V489.5H183.2V490.5H184.2V491.5H185.2V492.5H186.2V493.5H187.7V494.5H188.7V495.5H190.2V496.5H191.19V497.5H194.7V498.5H199.2V499.5H211.2V500.5H214.7V501.5H215.7V502.5H216.91V503.5H240.2V504.5H240.7V505.5H241.2V506.5H255.1" fill="none" stroke="#b3173f" stroke-width="1.0" stroke-linejoin="miter"/><path d="M247.7,505.4V507.6 M250.82,505.4V507.6 M214.39,499.4V501.6 M225.87,502.4V504.6 M237.27,502.4V504.6 M205.51,498.4V500.6 M233.74,502.4V504.6 M195.71,497.4V499.6 M230.95,502.4V504.6 M231.76,502.4V504.6 M235.07,502.4V504.6 M234.25,502.4V504.6 M243.81,505.4V507.6 M255.05,505.4V507.6 M238.56,502.4V504.6 M194.1,496.4V498.6 M249.31,505.4V507.6 M176.39,481.4V483.6 M231.06,502.4V504.6 M210.8,498.4V500.6 M238.76,502.4V504.6 M252.31,505.4V507.6 M233.58,502.4V504.6 M225.87,502.4V504.6 M223.09,502.4V504.6 M196.82,497.4V499.6 M230.07,502.4V504.6 M255.1,505.4V507.6" fill="none" stroke="#b3173f" stroke-width="1.1"/><path d="M162.7,446.5H163.2V448.5H163.62V449.5H164.2V453.5H164.7V457.5H165.16V460.5H165.7V461.5H166.7V462.5H168.2V463.5H169.7V464.5H171.2V465.5H172.7V466.5H173.2V467.5H173.7V468.5H174.2V469.5H175.02V470.5H175.7V471.5H176.2V472.5H177.2V473.5H177.7V474.5H178.2V475.5H178.87V476.5H180.2V477.5H181.2V478.5H182.2V479.5H183.2V480.5H184.7V481.5H185.7V482.5H186.7V483.5H188.2V484.5H189.2V485.5H190.2V486.5H191.7V487.5H192.7V488.5H195.2V489.5H200.7V490.5H204.7V491.5H206.7V492.5H208.7V493.5H210.7V494.5H229.2V495.5H230.7V496.5H232V497.5H255.1" fill="none" stroke="#2f4f8f" stroke-width="1.0" stroke-linejoin="miter"/><path d="M238.66,496.4V498.6 M235.51,496.4V498.6 M216.86,493.4V495.6 M220.28,493.4V495.6 M227.54,493.4V495.6 M217.63,493.4V495.6 M240.62,496.4V498.6 M179.79,475.4V477.6 M253.56,496.4V498.6 M182.67,478.4V480.6 M181.43,477.4V479.6 M241.93,496.4V498.6 M252.19,496.4V498.6 M236.24,496.4V498.6 M243.99,496.4V498.6 M233.08,496.4V498.6 M253.24,496.4V498.6 M215.14,493.4V495.6 M241.96,496.4V498.6 M238.67,496.4V498.6 M191.73,486.4V488.6 M245.05,496.4V498.6 M199.99,488.4V490.6 M253.03,496.4V498.6 M207.11,491.4V493.6 M201.78,489.4V491.6 M183.03,478.4V480.6 M255.1,496.4V498.6" fill="none" stroke="#2f4f8f" stroke-width="1.1"/><path d="M162.7,443.5 V514.5 H258.1" fill="none" stroke="#262626" stroke-width="1.15"/><path d="M159.9,514.5 H162.7 M159.9,497.5 H162.7 M159.9,480.5 H162.7 M159.9,463.5 H162.7 M159.9,446.5 H162.7 M162.7,514.5 V517.5 M193.5,514.5 V517.5 M224.3,514.5 V517.5 M255.1,514.5 V517.5" fill="none" stroke="#262626" stroke-width="0.9"/><text x="156.7" y="516.7" class="tk" text-anchor="end">0</text><text x="156.7" y="499.7" class="tk" text-anchor="end">25</text><text x="156.7" y="482.7" class="tk" text-anchor="end">50</text><text x="156.7" y="465.7" class="tk" text-anchor="end">75</text><text x="156.7" y="448.7" class="tk" text-anchor="end">100</text><text x="162.7" y="526.5" class="tk" text-anchor="middle">0</text><text x="193.5" y="526.5" class="tk" text-anchor="middle">20</text><text x="224.3" y="526.5" class="tk" text-anchor="middle">40</text><text x="255.1" y="526.5" class="tk" text-anchor="middle">60</text><text transform="translate(165.9,510.8) scale(0.85,1)" class="pv">Log Rank p.value: 0.05</text><text transform="translate(210.4,537.9) scale(0.666,1)" class="lab" text-anchor="middle">Follow-up (months)</text><text transform="translate(141.2,479) rotate(-90) scale(0.66,1)" class="lab" text-anchor="middle">EFS (%)</text><text x="210.4" y="429.4" class="tt" text-anchor="middle" letter-spacing="-0.25">ALFA-0701</text><text x="210.4" y="439.5" class="tt" text-anchor="middle" letter-spacing="-0.2">(all samples, N=191)</text><path d="M290.2,446.5H291.2V447.5H293.2V448.5H294.97V449.5H296.2V451.5H297.2V452.5H298.2V454.5H298.66V455.5H299.2V456.5H300.2V460.5H301.2V463.5H302.2V466.5H302.51V467.5H303.2V469.5H304.2V471.5H305.2V474.5H306.2V477.5H307.2V478.5H308.2V479.5H309.2V481.5H310.2V482.5H311.2V483.5H312.2V484.5H312.81V485.5H314.2V486.5H315.2V487.5H317.2V488.5H318.2V489.5H320.2V490.5H324.2V491.5H332.2V492.5H340.2V493.5H341.2V494.5H343.2V495.5H343.89V496.5H349.2V497.5H362.2V498.5H366.2V500.5H366.5V502.5H382.5" fill="none" stroke="#b3173f" stroke-width="1.0" stroke-linejoin="miter"/><path d="M302.07,462.4V464.6 M369.06,501.4V503.6 M369.9,501.4V503.6 M377.18,501.4V503.6 M339.82,491.4V493.6 M377.55,501.4V503.6 M315.9,486.4V488.6 M322.08,489.4V491.6 M351.65,496.4V498.6 M346.66,495.4V497.6 M313.92,484.4V486.6 M348.87,495.4V497.6 M348.66,495.4V497.6 M366.04,497.4V499.6 M371.24,501.4V503.6 M366.98,501.4V503.6 M373.73,501.4V503.6 M348.23,495.4V497.6 M334.73,491.4V493.6 M344.74,495.4V497.6 M382.5,501.4V503.6" fill="none" stroke="#b3173f" stroke-width="1.1"/><path d="M290.2,446.5H297.2V447.5H298.2V448.5H299.2V449.5H300.2V450.5H301.2V453.5H302.2V456.5H302.51V457.5H303.2V458.5H304.2V459.5H305.2V461.5H306.2V463.5H307.12V464.5H308.2V465.5H309.2V466.5H310.2V467.5H312.2V468.5H313.2V469.5H314.2V470.5H316.2V472.5H317.2V473.5H318.2V474.5H319.2V475.5H320.2V476.5H321.2V477.5H324.2V478.5H334.2V479.5H336.2V480.5H337.2V481.5H338.2V482.5H340.2V483.5H351.2V484.5H353.2V485.5H356.2V486.5H376.2V487.5H382.5" fill="none" stroke="#2f4f8f" stroke-width="1.0" stroke-linejoin="miter"/><path d="M332.58,477.4V479.6 M335.47,478.4V480.6 M333.25,477.4V479.6 M346.54,482.4V484.6 M322.14,476.4V478.6 M319.96,474.4V476.6 M363.77,485.4V487.6 M319.68,474.4V476.6 M335.25,478.4V480.6 M362.87,485.4V487.6 M341.66,482.4V484.6 M339.56,481.4V483.6 M340.63,482.4V484.6 M353.04,483.4V485.6 M310.33,466.4V468.6 M304,457.4V459.6 M369.58,485.4V487.6 M360.18,485.4V487.6 M379.88,486.4V488.6 M374.01,485.4V487.6 M382.5,486.4V488.6" fill="none" stroke="#2f4f8f" stroke-width="1.1"/><path d="M290.2,443.5 V514.5 H385.5" fill="none" stroke="#262626" stroke-width="1.15"/><path d="M287.4,514.5 H290.2 M287.4,497.5 H290.2 M287.4,480.5 H290.2 M287.4,463.5 H290.2 M287.4,446.5 H290.2 M290.2,514.5 V517.5 M320.97,514.5 V517.5 M351.73,514.5 V517.5 M382.5,514.5 V517.5" fill="none" stroke="#262626" stroke-width="0.9"/><text x="284.2" y="516.7" class="tk" text-anchor="end">0</text><text x="284.2" y="499.7" class="tk" text-anchor="end">25</text><text x="284.2" y="482.7" class="tk" text-anchor="end">50</text><text x="284.2" y="465.7" class="tk" text-anchor="end">75</text><text x="284.2" y="448.7" class="tk" text-anchor="end">100</text><text x="290.2" y="526.5" class="tk" text-anchor="middle">0</text><text x="320.97" y="526.5" class="tk" text-anchor="middle">20</text><text x="351.73" y="526.5" class="tk" text-anchor="middle">40</text><text x="382.5" y="526.5" class="tk" text-anchor="middle">60</text><text transform="translate(293.4,510.8) scale(0.85,1)" class="pv">Log Rank p.value: 0.01</text><text transform="translate(337.85,537.9) scale(0.666,1)" class="lab" text-anchor="middle">Follow-up (months)</text><text transform="translate(268.6,479) rotate(-90) scale(0.66,1)" class="lab" text-anchor="middle">RFS (%)</text><text x="337.85" y="429.4" class="tt" text-anchor="middle" letter-spacing="-0.25">ALFA-0701</text><text x="337.85" y="439.5" class="tt" text-anchor="middle" letter-spacing="-0.2">(all samples, N=144)</text><path d="M35.7,580.5H36.7V582.5H37.7V584.5H38.57V586.5H39.7V590.5H40.7V593.5H41.36V596.5H41.7V597.5H42.7V599.5H43.7V601.5H44.7V603.5H45.13V604.5H45.7V605.5H46.7V606.5H47.7V607.5H48.7V609.5H49.7V610.5H51.7V611.5H53.7V612.5H55.55V613.5H56.7V614.5H57.7V615.5H58.42V616.5H62.7V617.5H79.7V618.5H83.7V619.5H112.3" fill="none" stroke="#b3173f" stroke-width="1.0" stroke-linejoin="miter"/><path d="M96.5,618.4V620.6 M63.18,616.4V618.6 M103.98,618.4V620.6 M95.65,618.4V620.6 M85.22,618.4V620.6 M53.44,610.4V612.6 M111.84,618.4V620.6 M67.21,616.4V618.6 M100.82,618.4V620.6 M107.86,618.4V620.6 M86.84,618.4V620.6 M69.16,616.4V618.6 M53.46,610.4V612.6 M111.92,618.4V620.6 M92.75,618.4V620.6 M97.78,618.4V620.6 M99.61,618.4V620.6 M80.83,617.4V619.6 M74.4,616.4V618.6 M76.39,616.4V618.6 M112.3,618.4V620.6" fill="none" stroke="#b3173f" stroke-width="1.1"/><path d="M35.7,579.5H36.7V580.5H38.57V581.5H39.7V582.5H40.7V583.5H41.7V584.5H42.35V585.5H43.7V588.5H44.23V589.5H44.7V590.5H45.7V591.5H46.7V592.5H47.7V593.5H48.7V595.5H60.7V596.5H61.2V597.5H67.7V598.5H75.7V599.5H80.7V600.5H83.7V601.5H85.7V602.5H120.74" fill="none" stroke="#2f4f8f" stroke-width="1.0" stroke-linejoin="miter"/><path d="M66.2,596.4V598.6 M84.08,600.4V602.6 M96.6,601.4V603.6 M118.2,601.4V603.6 M104.98,601.4V603.6 M50.6,594.4V596.6 M77.15,598.4V600.6 M102.72,601.4V603.6 M114.96,601.4V603.6 M67.04,596.4V598.6 M107.6,601.4V603.6 M97.88,601.4V603.6 M74.43,597.4V599.6 M88.85,601.4V603.6 M62.36,596.4V598.6 M81.73,599.4V601.6 M85.05,600.4V602.6 M74.77,597.4V599.6 M116.96,601.4V603.6 M112.2,601.4V603.6 M120.74,601.4V603.6" fill="none" stroke="#2f4f8f" stroke-width="1.1"/><path d="M35.7,574.1 V647.2 H128.5" fill="none" stroke="#262626" stroke-width="1.15"/><path d="M32.9,647.2 H35.7 M32.9,629.68 H35.7 M32.9,612.15 H35.7 M32.9,594.62 H35.7 M32.9,577.1 H35.7 M35.7,647.2 V650.2 M58.15,647.2 V650.2 M80.6,647.2 V650.2 M103.05,647.2 V650.2 M125.5,647.2 V650.2" fill="none" stroke="#262626" stroke-width="0.9"/><text x="29.7" y="649.4" class="tk" text-anchor="end">0</text><text x="29.7" y="631.88" class="tk" text-anchor="end">25</text><text x="29.7" y="614.35" class="tk" text-anchor="end">50</text><text x="29.7" y="596.83" class="tk" text-anchor="end">75</text><text x="29.7" y="579.3" class="tk" text-anchor="end">100</text><text x="35.7" y="659.2" class="tk" text-anchor="middle">0</text><text x="58.15" y="659.2" class="tk" text-anchor="middle">25</text><text x="80.6" y="659.2" class="tk" text-anchor="middle">50</text><text x="103.05" y="659.2" class="tk" text-anchor="middle">75</text><text x="125.5" y="659.2" class="tk" text-anchor="middle">100</text><text transform="translate(38.9,643.5) scale(0.85,1)" class="pv">Log Rank p.value: 0.002</text><text transform="translate(82.1,670.6) scale(0.666,1)" class="lab" text-anchor="middle">Follow-up (months)</text><text transform="translate(14.15,610.65) rotate(-90) scale(0.66,1)" class="lab" text-anchor="middle">OS (%)</text><text x="82.1" y="559.7" class="tt" text-anchor="middle" letter-spacing="-0.25">qRT-PCR</text><text x="82.1" y="569.7" class="tt" text-anchor="middle" letter-spacing="-0.2">(all samples, N=142)</text><path d="M162.7,579.5H163.7V581.5H164.7V583.5H165.57V585.5H166.7V590.5H167.7V595.5H168.36V598.5H168.7V599.5H169.7V604.5H170.7V609.5H171.23V611.5H171.7V612.5H172.7V614.5H173.7V615.5H174.01V616.5H175.7V617.5H176.7V618.5H178.7V619.5H181.7V620.5H185.7V621.5H187.7V622.5H189.7V623.5H192.7V624.5H195.7V625.5H198.7V626.5H239.3" fill="none" stroke="#b3173f" stroke-width="1.0" stroke-linejoin="miter"/><path d="M214.81,625.4V627.6 M230.65,625.4V627.6 M229.26,625.4V627.6 M232.8,625.4V627.6 M192.7,623.4V625.6 M228.59,625.4V627.6 M216.28,625.4V627.6 M210.38,625.4V627.6 M221.11,625.4V627.6 M230.81,625.4V627.6 M226.68,625.4V627.6 M210.6,625.4V627.6 M232.63,625.4V627.6 M194.02,623.4V625.6 M234.57,625.4V627.6 M233.55,625.4V627.6 M231.75,625.4V627.6 M193.87,623.4V625.6 M186.91,620.4V622.6 M224.98,625.4V627.6 M239.3,625.4V627.6" fill="none" stroke="#b3173f" stroke-width="1.1"/><path d="M162.7,577.5H163.7V579.5H164.59V581.5H165.7V583.5H166.7V584.5H167.46V586.5H168.7V588.5H169.7V591.5H170.24V592.5H170.7V594.5H171.7V597.5H172.7V601.5H173.12V603.5H174.7V604.5H175.7V605.5H177.7V606.5H179.7V607.5H182.7V608.5H183.7V609.5H185.7V610.5H186.7V611.5H190.7V612.5H211.7V613.5H224.7V614.5H225.7V615.5H226.01V616.5H247.74" fill="none" stroke="#2f4f8f" stroke-width="1.0" stroke-linejoin="miter"/><path d="M235.21,615.4V617.6 M217.03,612.4V614.6 M179.39,605.4V607.6 M222.2,612.4V614.6 M186.15,609.4V611.6 M238.41,615.4V617.6 M219.07,612.4V614.6 M235.36,615.4V617.6 M175.27,603.4V605.6 M232.05,615.4V617.6 M235.05,615.4V617.6 M207.48,611.4V613.6 M228.83,615.4V617.6 M201.87,611.4V613.6 M236.04,615.4V617.6 M246.25,615.4V617.6 M194.14,611.4V613.6 M206.47,611.4V613.6 M211.29,611.4V613.6 M182.03,606.4V608.6 M247.74,615.4V617.6" fill="none" stroke="#2f4f8f" stroke-width="1.1"/><path d="M162.7,574.1 V647.2 H255.5" fill="none" stroke="#262626" stroke-width="1.15"/><path d="M159.9,647.2 H162.7 M159.9,629.68 H162.7 M159.9,612.15 H162.7 M159.9,594.62 H162.7 M159.9,577.1 H162.7 M162.7,647.2 V650.2 M185.15,647.2 V650.2 M207.6,647.2 V650.2 M230.05,647.2 V650.2 M252.5,647.2 V650.2" fill="none" stroke="#262626" stroke-width="0.9"/><text x="156.7" y="649.4" class="tk" text-anchor="end">0</text><text x="156.7" y="631.88" class="tk" text-anchor="end">25</text><text x="156.7" y="614.35" class="tk" text-anchor="end">50</text><text x="156.7" y="596.83" class="tk" text-anchor="end">75</text><text x="156.7" y="579.3" class="tk" text-anchor="end">100</text><text x="162.7" y="659.2" class="tk" text-anchor="middle">0</text><text x="185.15" y="659.2" class="tk" text-anchor="middle">25</text><text x="207.6" y="659.2" class="tk" text-anchor="middle">50</text><text x="230.05" y="659.2" class="tk" text-anchor="middle">75</text><text x="252.5" y="659.2" class="tk" text-anchor="middle">100</text><text transform="translate(165.9,643.5) scale(0.85,1)" class="pv">Log Rank p.value: 0.03</text><text transform="translate(209.1,670.6) scale(0.666,1)" class="lab" text-anchor="middle">Follow-up (months)</text><text transform="translate(141.2,610.65) rotate(-90) scale(0.66,1)" class="lab" text-anchor="middle">EFS (%)</text><text x="209.1" y="559.7" class="tt" text-anchor="middle" letter-spacing="-0.25">qRT-PCR</text><text x="209.1" y="569.7" class="tt" text-anchor="middle" letter-spacing="-0.2">(all samples, N=142)</text><text x="6.5" y="24.3" class="let">A</text><text x="261.7" y="24.5" class="let">B</text><text x="6.5" y="156.3" class="let">C</text><text x="261.8" y="156.4" class="let">D</text><text x="6.5" y="288.4" class="let">E</text><text x="262.3" y="288.4" class="let">F</text><text x="6.7" y="420.6" class="let">G</text><text x="6.6" y="551.7" class="let">H</text><text x="222" y="11.3" class="leg">Score</text><path d="M241,9.5 H254" stroke="#2f4f8f" stroke-width="1"/><path d="M247.5,8 V11" stroke="#2f4f8f" stroke-width="0.8"/><text x="256.5" y="11.3" class="leg">Low</text><path d="M272,9.5 H285" stroke="#b3173f" stroke-width="1"/><path d="M278.5,8 V11" stroke="#b3173f" stroke-width="0.8"/><text x="287.5" y="11.3" class="leg">High</text></svg>
<div class="frame"></div>
</body></html>
